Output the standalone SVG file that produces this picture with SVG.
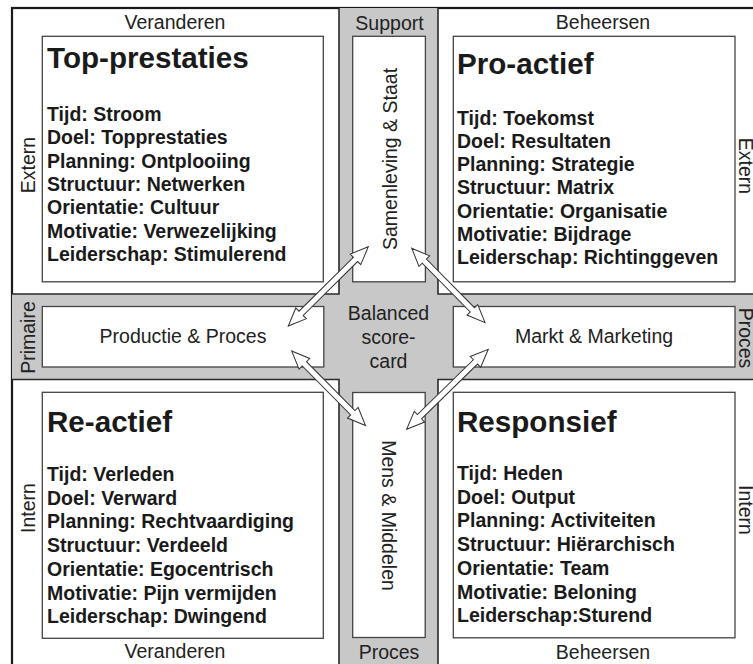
<svg xmlns="http://www.w3.org/2000/svg" width="753" height="664" viewBox="0 0 753 664">
<style>
.lbl{font-family:"Liberation Sans",Arial,sans-serif;font-size:19.5px;fill:#222}
.mid{text-anchor:middle}
.ttl{font-family:"Liberation Sans",Arial,sans-serif;font-size:29.6px;font-weight:bold;fill:#1a1a1a}
.body{font-family:"Liberation Sans",Arial,sans-serif;font-size:19.5px;font-weight:bold;fill:#1a1a1a}
.box{fill:#fff;stroke:#444;stroke-width:1.3}
.band{fill:#c8c8c8;stroke:none}
.edge{fill:none;stroke:#2a2a2a;stroke-width:1.6}
.arr{fill:#fff;stroke:#333;stroke-width:1}
</style>
<rect x="0" y="0" width="753" height="664" fill="#fff"/>
<g id="frame">
<rect x="12" y="8" width="770" height="690" fill="none" stroke="#1a1a1a" stroke-width="2.2"/>
</g>
<g id="bands">
<rect class="band" x="12" y="294" width="760" height="85.5"/>
<rect class="band" x="339" y="8" width="99" height="690"/>
<path class="edge" d="M339,8 V294 H12 M12,379.5 H339 V690 M438,690 V379.5 H770 M770,294 H438 V8"/>
</g>
<g id="axis-labels">
<text class="lbl mid" x="175" y="29">Veranderen</text>
<text class="lbl mid" x="603" y="29.3">Beheersen</text>
<text class="lbl mid" x="389.5" y="29.5">Support</text>
<text class="lbl mid" x="175" y="657.5">Veranderen</text>
<text class="lbl mid" x="603" y="659">Beheersen</text>
<text class="lbl mid" x="389" y="659">Proces</text>
<text class="lbl mid" transform="translate(35,165) rotate(-90)">Extern</text>
<text class="lbl mid" transform="translate(35,508) rotate(-90)">Intern</text>
<text class="lbl mid" transform="translate(35,337.5) rotate(-90)">Primaire</text>
<text class="lbl mid" transform="translate(738.5,166) rotate(90)">Extern</text>
<text class="lbl mid" transform="translate(738.5,510) rotate(90)">Intern</text>
<text class="lbl mid" transform="translate(738.5,338) rotate(90)">Proces</text>
</g>
<g id="top-prestaties">
<rect class="box" x="42.3" y="36.3" width="281" height="245.5"/>
<text class="ttl" x="47" y="68.3">Top-prestaties</text>
<text class="body" x="47" y="121">Tijd: Stroom</text>
<text class="body" x="47" y="144.3">Doel: Topprestaties</text>
<text class="body" x="47" y="167.6">Planning: Ontplooiing</text>
<text class="body" x="47" y="190.9">Structuur: Netwerken</text>
<text class="body" x="47" y="214.2">Orientatie: Cultuur</text>
<text class="body" x="47" y="237.5">Motivatie: Verwezelijking</text>
<text class="body" x="47" y="260.8">Leiderschap: Stimulerend</text>
</g>
<g id="pro-actief">
<rect class="box" x="453.3" y="36.3" width="281.7" height="245.5"/>
<text class="ttl" x="457" y="74">Pro-actief</text>
<text class="body" x="457" y="124.5">Tijd: Toekomst</text>
<text class="body" x="457" y="147.8">Doel: Resultaten</text>
<text class="body" x="457" y="171.1">Planning: Strategie</text>
<text class="body" x="457" y="194.4">Structuur: Matrix</text>
<text class="body" x="457" y="217.7">Orientatie: Organisatie</text>
<text class="body" x="457" y="241">Motivatie: Bijdrage</text>
<text class="body" x="457" y="264.3">Leiderschap: Richtinggeven</text>
</g>
<g id="re-actief">
<rect class="box" x="42.3" y="392.3" width="281" height="246"/>
<text class="ttl" x="47" y="431.5">Re-actief</text>
<text class="body" x="47" y="481">Tijd: Verleden</text>
<text class="body" x="47" y="504.7">Doel: Verward</text>
<text class="body" x="47" y="528.4">Planning: Rechtvaardiging</text>
<text class="body" x="47" y="552.1">Structuur: Verdeeld</text>
<text class="body" x="47" y="575.8">Orientatie: Egocentrisch</text>
<text class="body" x="47" y="599.5">Motivatie: Pijn vermijden</text>
<text class="body" x="47" y="623.2">Leiderschap: Dwingend</text>
</g>
<g id="responsief">
<rect class="box" x="453.3" y="392.3" width="281.7" height="245.5"/>
<text class="ttl" x="457" y="431.5">Responsief</text>
<text class="body" x="457" y="480">Tijd: Heden</text>
<text class="body" x="457" y="503.7">Doel: Output</text>
<text class="body" x="457" y="527.4">Planning: Activiteiten</text>
<text class="body" x="457" y="551.1">Structuur: Hiërarchisch</text>
<text class="body" x="457" y="574.8">Orientatie: Team</text>
<text class="body" x="457" y="598.5">Motivatie: Beloning</text>
<text class="body" x="457" y="622.2">Leiderschap:Sturend</text>
</g>
<g id="productie-proces">
<rect class="box" x="42.3" y="306.5" width="281.5" height="60.5"/>
<text class="lbl mid" x="183" y="343.3">Productie &amp; Proces</text>
</g>
<g id="markt-marketing">
<rect class="box" x="453.3" y="306.5" width="281.7" height="60.5"/>
<text class="lbl mid" x="594" y="343.3">Markt &amp; Marketing</text>
</g>
<g id="samenleving-staat">
<rect class="box" x="352.7" y="36.3" width="72.7" height="245.5"/>
<text class="lbl mid" transform="translate(396.5,159) rotate(-90)">Samenleving &amp; Staat</text>
</g>
<g id="mens-middelen">
<rect class="box" x="352.7" y="392.5" width="72.5" height="245"/>
<text class="lbl mid" transform="translate(381.5,515.5) rotate(90)">Mens &amp; Middelen</text>
</g>
<g id="balanced-scorecard">
<text class="lbl mid" x="388.5" y="320">Balanced</text>
<text class="lbl mid" x="388.5" y="344">score-</text>
<text class="lbl mid" x="388.5" y="367.7">card</text>
</g>
<g id="connectors">
<polygon class="arr" transform="translate(288.3,326) rotate(-44.75)" points="0,0 18,-7.5 18,-3 94.6,-3 94.6,-7.5 112.6,0 94.6,7.5 94.6,3 18,3 18,7.5"/>
<polygon class="arr" transform="translate(411.7,248.3) rotate(45.4)" points="0,0 18,-7.5 18,-3 86.4,-3 86.4,-7.5 104.4,0 86.4,7.5 86.4,3 18,3 18,7.5"/>
<polygon class="arr" transform="translate(291.7,351) rotate(45.3)" points="0,0 18,-7.5 18,-3 86.9,-3 86.9,-7.5 104.9,0 86.9,7.5 86.9,3 18,3 18,7.5"/>
<polygon class="arr" transform="translate(488.3,349.3) rotate(135.6)" points="0,0 18,-7.5 18,-3 96.3,-3 96.3,-7.5 114.3,0 96.3,7.5 96.3,3 18,3 18,7.5"/>
</g>
</svg>
